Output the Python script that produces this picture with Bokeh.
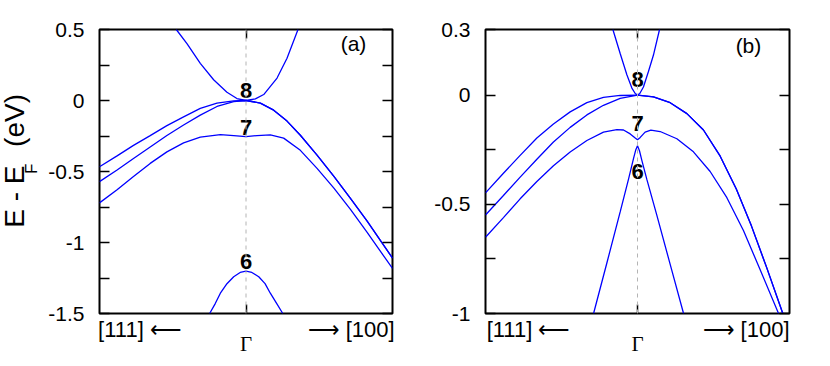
import math
from bokeh.plotting import figure
from bokeh.models import (Span, Label, FixedTicker, LinearAxis,
                          CustomJSTickFormatter, Range1d)
from bokeh.layouts import row
from bokeh.embed import file_html
from bokeh.resources import INLINE
from bokeh.core.properties import value

# ---------------- data: panel (a) ----------------
a_cb_k = [-0.476, -0.403, -0.312, -0.221, -0.130, -0.062, 0.0, 0.064, 0.121, 0.212, 0.280, 0.355]
a_cb_e = [0.5, 0.401, 0.262, 0.146, 0.058, 0.014, 0.0, 0.012, 0.042, 0.158, 0.297, 0.5]

a_hh1_k = [-1.0, -0.88, -0.768, -0.654, -0.540, -0.426, -0.312, -0.198, -0.084, 0.0,
           0.098, 0.189, 0.280, 0.371, 0.485, 0.6, 0.713, 0.827, 1.0]
a_hh1_e = [-0.467, -0.39, -0.316, -0.247, -0.177, -0.115, -0.055, -0.018, -0.003, 0.0,
           -0.018, -0.068, -0.145, -0.245, -0.385, -0.535, -0.69, -0.85, -1.11]

a_hh2_k = [-1.0, -0.88, -0.768, -0.654, -0.540, -0.426, -0.312, -0.198, -0.084, 0.0,
           0.098, 0.189, 0.280, 0.371, 0.485, 0.6, 0.713, 0.827, 1.0]
a_hh2_e = [-0.571, -0.49, -0.409, -0.328, -0.247, -0.173, -0.103, -0.042, -0.008, 0.0,
           -0.018, -0.068, -0.145, -0.245, -0.385, -0.535, -0.69, -0.85, -1.11]

a_b7_k = [-1.0, -0.88, -0.768, -0.654, -0.540, -0.426, -0.312, -0.175, -0.084, 0.0,
          0.075, 0.166, 0.257, 0.371, 0.485, 0.6, 0.713, 0.827, 1.0]
a_b7_e = [-0.721, -0.628, -0.536, -0.443, -0.362, -0.298, -0.258, -0.240, -0.247, -0.254,
          -0.247, -0.242, -0.265, -0.351, -0.478, -0.617, -0.767, -0.929, -1.183]

a_b6_k = [-0.248, -0.21, -0.175, -0.13, -0.084, -0.04, 0.0, 0.04, 0.087, 0.13, 0.166, 0.21, 0.251]
a_b6_e = [-1.5, -1.43, -1.357, -1.29, -1.241, -1.211, -1.202, -1.211, -1.241, -1.29, -1.357, -1.43, -1.5]

a_major = [-1.5, -1.0, -0.5, 0.0, 0.5]
a_minor = [-1.25, -0.75, -0.25, 0.25]
a_dir_ticks = [-0.7235, 0.717]     # centres of the direction labels

# ---------------- data: panel (b) ----------------
b_cb_k = [-0.162, -0.114, -0.070, -0.037, -0.015, 0.0, 0.015, 0.039, 0.072, 0.105, 0.145]
b_cb_e = [0.3, 0.190, 0.093, 0.032, 0.007, 0.0, 0.007, 0.037, 0.108, 0.183, 0.3]

b_hh1_k = [-1.0, -0.882, -0.772, -0.662, -0.553, -0.443, -0.333, -0.224, -0.114, 0.0,
           0.105, 0.215, 0.325, 0.434, 0.544, 0.65, 0.75, 0.85, 0.956]
b_hh1_e = [-0.448, -0.358, -0.276, -0.197, -0.133, -0.077, -0.035, -0.011, -0.002, 0.0,
           -0.008, -0.035, -0.085, -0.16, -0.28, -0.43, -0.60, -0.79, -1.0]

b_hh2_k = [-1.0, -0.882, -0.772, -0.662, -0.553, -0.443, -0.333, -0.224, -0.114, 0.0,
           0.105, 0.215, 0.325, 0.434, 0.544, 0.65, 0.75, 0.85, 0.956]
b_hh2_e = [-0.549, -0.460, -0.376, -0.294, -0.215, -0.148, -0.091, -0.047, -0.015, 0.0,
           -0.008, -0.035, -0.085, -0.16, -0.28, -0.43, -0.60, -0.79, -1.0]

b_b7_k = [-1.0, -0.882, -0.772, -0.662, -0.553, -0.443, -0.333, -0.224, -0.136, -0.092, -0.048, -0.015, 0.0,
          0.018, 0.050, 0.088, 0.149, 0.259, 0.368, 0.478, 0.588, 0.697, 0.807, 0.928]
b_b7_e = [-0.651, -0.561, -0.475, -0.396, -0.324, -0.261, -0.208, -0.170, -0.158, -0.160, -0.178, -0.197, -0.205,
          -0.194, -0.170, -0.161, -0.167, -0.200, -0.26, -0.35, -0.47, -0.62, -0.80, -1.0]

b_b6_k = [-0.289, -0.202, -0.114, -0.059, -0.026, -0.011, 0.0, 0.013, 0.029, 0.061, 0.127, 0.215, 0.303]
b_b6_e = [-1.0, -0.77, -0.535, -0.385, -0.29, -0.25, -0.232, -0.255, -0.30, -0.385, -0.55, -0.775, -1.0]

b_major = [-1.0, -0.5, 0.0, 0.3]
b_minor = [-0.75, -0.25]
b_dir_ticks = [-0.717, 0.714]

band_labels = ["8", "7", "6"]
a_band_label_e = [0.069, -0.187, -1.135]
b_band_label_e = [0.071, -0.132, -0.349]

BLUE = "#0000ff"
FONT = "Liberation Sans"
FIG_H = 358      # canvas height (frame 29..317)


def make_panel(yr, major, minor, dir_ticks, width, bl, curves, lab_e, tag, tag_pos):
    p = figure(width=width, height=FIG_H, x_range=Range1d(-1, 1), y_range=Range1d(*yr),
               output_backend="svg", toolbar_location=None,
               min_border_left=bl, min_border_right=20, min_border_top=29, min_border_bottom=41,
               x_axis_location=None, y_axis_location=None)
    p.grid.visible = False
    p.outline_line_color = "black"
    p.outline_line_width = 2
    p.background_fill_color = "white"
    p.border_fill_color = "white"

    fmt = CustomJSTickFormatter(code="return tick.toString();")
    blank = CustomJSTickFormatter(code="return '';")
    for side in ("left", "right"):
        ax = LinearAxis(ticker=FixedTicker(ticks=major, minor_ticks=minor),
                        formatter=fmt if side == "left" else blank)
        ax.axis_line_color = None
        ax.major_tick_in = 10
        ax.major_tick_out = 0
        ax.minor_tick_in = 10
        ax.minor_tick_out = 0
        ax.major_tick_line_width = 1.5
        ax.minor_tick_line_width = 1.5
        ax.major_label_text_font = FONT
        ax.major_label_text_color = "black"
        if side == "left":
            ax.major_label_standoff = 15
            ax.major_label_text_font_size = "21px"
        else:
            ax.major_label_standoff = 0
            ax.major_label_text_font_size = "0px"
        p.add_layout(ax, side)

    # top: only the Gamma tick
    top = LinearAxis(ticker=FixedTicker(ticks=[0]), formatter=blank)
    top.axis_line_color = None
    top.major_tick_in = 9
    top.major_tick_out = 0
    top.major_tick_line_width = 1.5
    top.minor_tick_line_color = None
    top.major_label_standoff = 0
    top.major_label_text_font_size = "0px"
    p.add_layout(top, "above")

    # bottom: Gamma tick (minor), direction labels (major, no tick), Gamma as axis label
    dir_fmt = CustomJSTickFormatter(
        code="return tick < 0 ? '[111] \u27f5' : '\u27f6 [100]';")
    bot = LinearAxis(ticker=FixedTicker(ticks=dir_ticks, minor_ticks=[0]), formatter=dir_fmt)
    bot.axis_line_color = None
    bot.major_tick_in = 0
    bot.major_tick_out = 0
    bot.major_tick_line_color = None
    bot.minor_tick_in = 9
    bot.minor_tick_out = 0
    bot.minor_tick_line_width = 1.5
    bot.minor_tick_line_color = "black"
    bot.major_label_standoff = 3
    bot.major_label_text_font = FONT
    bot.major_label_text_font_size = "22px"
    bot.major_label_text_color = "black"
    bot.axis_label = "Γ"
    bot.axis_label_text_font = "Liberation Serif"
    bot.axis_label_text_font_style = "normal"
    bot.axis_label_text_font_size = "21px"
    bot.axis_label_text_color = "black"
    bot.axis_label_standoff = -13
    p.add_layout(bot, "below")

    p.add_layout(Span(location=0, dimension="height", line_color="#b4b4b4",
                      line_dash="4 4", line_width=1))

    for k, e in curves:
        p.line(k, e, line_color=BLUE, line_width=1.3)

    p.text(x=[0, 0, 0], y=lab_e, text=band_labels, text_align="center",
           text_baseline="middle", text_font=value(FONT), text_font_style="bold",
           text_font_size="22px", text_color="black")

    p.add_layout(Label(x=tag_pos[0], y=tag_pos[1], text=tag, text_align="center",
                       text_baseline="middle", text_font=FONT, text_font_size="21px",
                       text_color="black"))
    return p


# y-axis title strip (canvas x 0..44)
ylab = figure(width=44, height=FIG_H, x_range=Range1d(0, 44), y_range=Range1d(FIG_H, 0),
              output_backend="svg", toolbar_location=None, min_border=0,
              x_axis_location=None, y_axis_location=None)
ylab.grid.visible = False
ylab.outline_line_color = None
ylab.add_layout(Label(x=14, y=250, text="E - E", angle=math.pi / 2, text_align="left",
                      text_baseline="alphabetic", text_font=FONT, text_font_size="28px",
                      text_color="black"))
ylab.add_layout(Label(x=31, y=182, text="F", angle=math.pi / 2, text_align="left",
                      text_baseline="alphabetic", text_font=FONT, text_font_size="17px",
                      text_color="black"))
ylab.add_layout(Label(x=14, y=148, text="(eV)", angle=math.pi / 2, text_align="left",
                      text_baseline="alphabetic", text_font=FONT, text_font_size="28px",
                      text_color="black"))

# panel (a): canvas x 44..412, frame 99..392
pa = make_panel((-1.5, 0.5), a_major, a_minor, a_dir_ticks, 368, 55,
                [(a_cb_k, a_cb_e), (a_hh1_k, a_hh1_e), (a_hh2_k, a_hh2_e),
                 (a_b7_k, a_b7_e), (a_b6_k, a_b6_e)],
                a_band_label_e, "(a)", (0.734, 0.401))
# panel (b): canvas x 412..809, frame 485..789
pb = make_panel((-1.0, 0.3), b_major, b_minor, b_dir_ticks, 397, 73,
                [(b_cb_k, b_cb_e), (b_hh1_k, b_hh1_e), (b_hh2_k, b_hh2_e),
                 (b_b7_k, b_b7_e), (b_b6_k, b_b6_e)],
                b_band_label_e, "(b)", (0.73, 0.229))

layout = row(ylab, pa, pb)
open("out.html", "w").write(file_html(layout, INLINE))
